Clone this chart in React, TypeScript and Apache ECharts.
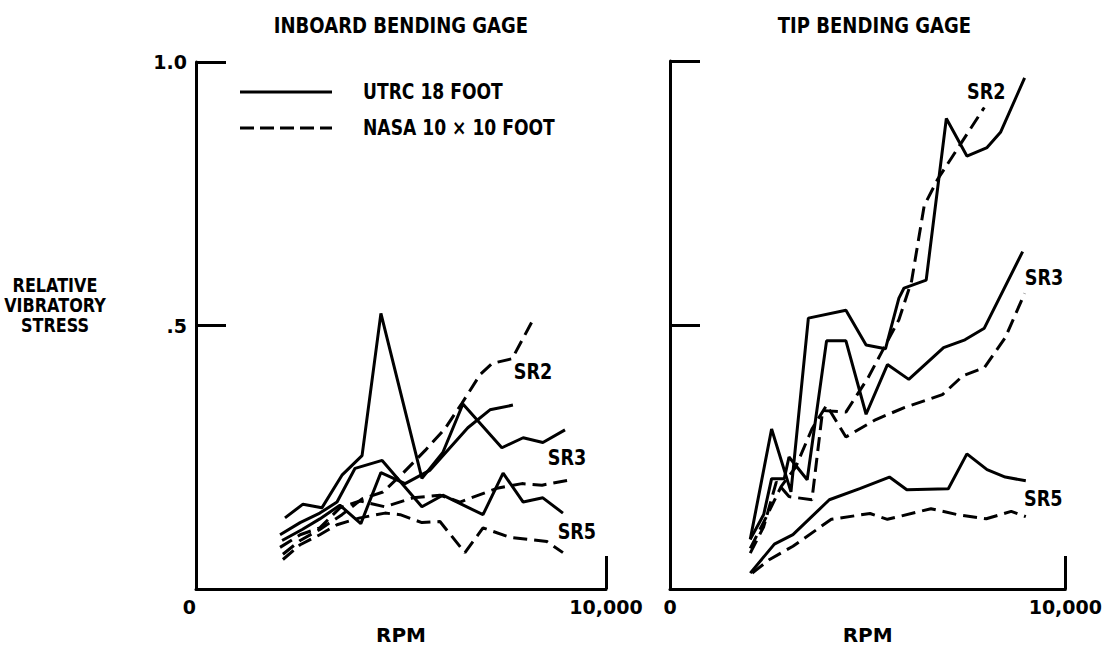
import React, { useEffect, useRef } from "react";
import * as echarts from "echarts";

// ---- data (rpm, relative vibratory stress) ----
const utrcInbSR2 = [[2100,0.092],[2590,0.113],[3020,0.133],[3510,0.159],[4020,0.124],[4510,0.221],[5100,0.200],[5700,0.225],[6630,0.306],[7170,0.340],[7730,0.349]];
const utrcInbSR3 = [[2170,0.135],[2610,0.161],[3070,0.154],[3560,0.216],[4050,0.253],[4510,0.523],[5510,0.210],[6020,0.259],[6510,0.351],[7460,0.268],[7980,0.287],[8460,0.278],[9000,0.302]];
const utrcInbSR5 = [[2050,0.103],[2540,0.126],[3020,0.144],[3440,0.165],[3880,0.229],[4540,0.244],[5510,0.156],[6020,0.178],[7000,0.141],[7490,0.220],[7980,0.165],[8460,0.173],[8950,0.144]];
const nasaInbSR2 = [[2120,0.066],[2540,0.092],[3020,0.113],[3560,0.141],[4050,0.171],[4560,0.184],[5050,0.220],[5590,0.263],[6070,0.304],[6490,0.353],[6930,0.407],[7220,0.428],[7710,0.437],[8200,0.508]];
const nasaInbSR3 = [[2050,0.079],[2540,0.103],[3020,0.116],[3510,0.154],[4000,0.167],[4610,0.156],[5290,0.173],[5950,0.178],[6440,0.165],[7340,0.191],[7950,0.200],[8440,0.197],[9050,0.206]];
const nasaInbSR5 = [[2120,0.056],[2540,0.084],[3020,0.103],[3440,0.122],[4000,0.135],[4610,0.144],[4980,0.141],[5510,0.126],[5950,0.128],[6560,0.069],[7000,0.116],[7660,0.098],[8560,0.090],[8950,0.069]];

const utrcTipSR2 = [[2030,0.094],[2570,0.303],[3060,0.184],[3500,0.513],[4450,0.528],[4960,0.462],[5450,0.455],[5790,0.551],[5920,0.570],[6480,0.585],[6990,0.891],[7510,0.820],[8020,0.836],[8360,0.865],[8970,0.968]];
const utrcTipSR3 = [[2030,0.094],[2370,0.141],[2570,0.209],[2890,0.209],[3010,0.250],[3470,0.207],[3960,0.470],[4450,0.470],[4960,0.331],[5500,0.425],[6040,0.397],[6920,0.457],[7460,0.472],[7950,0.494],[8920,0.639]];
const utrcTipSR5 = [[2030,0.030],[2640,0.085],[3110,0.103],[4030,0.169],[4800,0.190],[5550,0.212],[5990,0.188],[7040,0.190],[7510,0.256],[8020,0.226],[8480,0.212],[9000,0.205]];
const nasaTipSR2 = [[2030,0.068],[2370,0.118],[2690,0.203],[3010,0.175],[3590,0.169],[3860,0.338],[4450,0.335],[5010,0.400],[5450,0.462],[5790,0.510],[6110,0.583],[6430,0.726],[6770,0.776],[7950,0.912]];
const nasaTipSR3 = [[2030,0.077],[2440,0.137],[2810,0.194],[3180,0.231],[3590,0.303],[3960,0.348],[4450,0.288],[5210,0.321],[5940,0.344],[6890,0.368],[7410,0.404],[7950,0.419],[8480,0.476],[8970,0.560]];
const nasaTipSR5 = [[2080,0.030],[2520,0.056],[3110,0.081],[4080,0.132],[5060,0.143],[5500,0.132],[6600,0.152],[7260,0.141],[8000,0.133],[8630,0.147],[9000,0.137]];

const panelTitles = ["INBOARD BENDING GAGE", "TIP BENDING GAGE"];
const yTickLabels = { 0.5: ".5", 1: "1.0" } as Record<string, string>;
const xTickLabels = { 0: "0", 10000: "10,000" } as Record<string, string>;
const legendNames = ["UTRC 18 FOOT", "NASA 10 \u00d7 10 FOOT"];
// curve labels: [panel, text, rpm, value]
const curveLabels: [number, string, number, number][] = [
  [0, "SR2", 8220, 0.413],
  [0, "SR3", 9050, 0.248],
  [0, "SR5", 9290, 0.109],
  [1, "SR2", 8000, 0.942],
  [1, "SR3", 9460, 0.59],
  [1, "SR5", 9440, 0.171],
];

const FONT = "'DejaVu Sans', 'Liberation Sans', sans-serif";
const DASH = [14, 7];
const LW = 3;
const SX = 0.8;

export default function App() {
  const ref = useRef<HTMLDivElement>(null);
  useEffect(() => {
    if (!ref.current) return;
    const chart = echarts.init(ref.current, undefined, { renderer: "svg" });
    const mk = (data: number[][], panel: number, solid: boolean) => ({
      type: "line",
      name: solid ? legendNames[0] : legendNames[1],
      xAxisIndex: panel,
      yAxisIndex: panel,
      data,
      symbol: "none",
      silent: true,
      lineStyle: { color: "#000", width: LW, type: solid ? "solid" : DASH },
      itemStyle: { color: "#000" },
    });
    const axisX = (i: number) => ({
      type: "value",
      gridIndex: i,
      min: 0,
      max: 10000,
      interval: 10000,
      axisLine: { lineStyle: { color: "#000", width: LW } },
      axisTick: { inside: true, length: 33, lineStyle: { color: "#000", width: LW } },
      splitLine: { show: false },
      axisLabel: {
        formatter: (v: number) => xTickLabels[v] ?? "",
        color: "#000",
        fontFamily: FONT,
        fontWeight: "bold",
        fontSize: 19,
        margin: 8,
        alignMinLabel: i === 0 ? "right" : "center",
      },
      name: "RPM",
      nameLocation: "middle",
      nameGap: 36,
      nameTextStyle: { color: "#000", fontFamily: FONT, fontWeight: "bold", fontSize: 20 },
    });
    const axisY = (i: number) => ({
      type: "value",
      gridIndex: i,
      min: 0,
      max: 1,
      interval: 0.5,
      axisLine: { lineStyle: { color: "#000", width: LW } },
      axisTick: { inside: true, length: 30, lineStyle: { color: "#000", width: LW } },
      splitLine: { show: false },
      axisLabel: {
        show: i === 0,
        formatter: (v: number) => yTickLabels[String(v)] ?? "",
        color: "#000",
        fontFamily: FONT,
        fontWeight: "bold",
        fontSize: 19,
        margin: 9,
      },
    });
    const option: any = {
      animation: false,
      backgroundColor: "#fff",
      grid: [
        { left: 196, top: 62, width: 410, height: 533 },
        { left: 670, top: 61, width: 409, height: 532 },
      ],
      xAxis: [axisX(0), axisX(1)],
      yAxis: [axisY(0), axisY(1)],
      series: [
        mk(utrcInbSR2, 0, true), mk(utrcInbSR3, 0, true), mk(utrcInbSR5, 0, true),
        mk(nasaInbSR2, 0, false), mk(nasaInbSR3, 0, false), mk(nasaInbSR5, 0, false),
        mk(utrcTipSR2, 1, true), mk(utrcTipSR3, 1, true), mk(utrcTipSR5, 1, true),
        mk(nasaTipSR2, 1, false), mk(nasaTipSR3, 1, false), mk(nasaTipSR5, 1, false),
      ],
    };
    chart.setOption(option);

    const txt = (text: string, x: number, y: number, size: number, align: string, sx = SX, lineHeight?: number) => ({
      type: "text",
      x,
      y,
      scaleX: sx,
      silent: true,
      style: {
        x: 0,
        y: 0,
        text,
        align,
        verticalAlign: "middle",
        fill: "#000",
        font: `bold ${size}px ${FONT}`,
        lineHeight,
      },
    });
    const graphics: any[] = [];
    // panel titles centred over each grid
    [[196, 606], [670, 1079]].forEach(([a, b], i) => {
      graphics.push(txt(panelTitles[i], (a + b) / 2, 25, 22, "center", 0.82));
    });
    // y-axis name
    graphics.push(txt("RELATIVE\nVIBRATORY\nSTRESS", 55, 305, 20, "center", 0.8, 20));
    // legend
    graphics.push({ type: "line", silent: true, shape: { x1: 240, y1: 92, x2: 332, y2: 92 }, style: { stroke: "#000", lineWidth: LW } });
    graphics.push({ type: "line", silent: true, shape: { x1: 240, y1: 128, x2: 332, y2: 128 }, style: { stroke: "#000", lineWidth: LW, lineDash: [14, 6] } });
    graphics.push(txt(legendNames[0], 363, 92, 22, "left", 0.78));
    graphics.push(txt(legendNames[1], 363, 128, 22, "left", 0.78));
    // curve labels anchored in data coordinates
    curveLabels.forEach(([panel, text, rpm, val]) => {
      const p = chart.convertToPixel({ gridIndex: panel } as any, [rpm, val]) as number[];
      graphics.push(txt(text, p[0], p[1], 22, "center", 0.8));
    });
    chart.setOption({ graphic: graphics });
    return () => chart.dispose();
  }, []);
  return <div ref={ref} style={{ position: "fixed", left: 0, top: 0, width: 1105, height: 650 }} />;
}
